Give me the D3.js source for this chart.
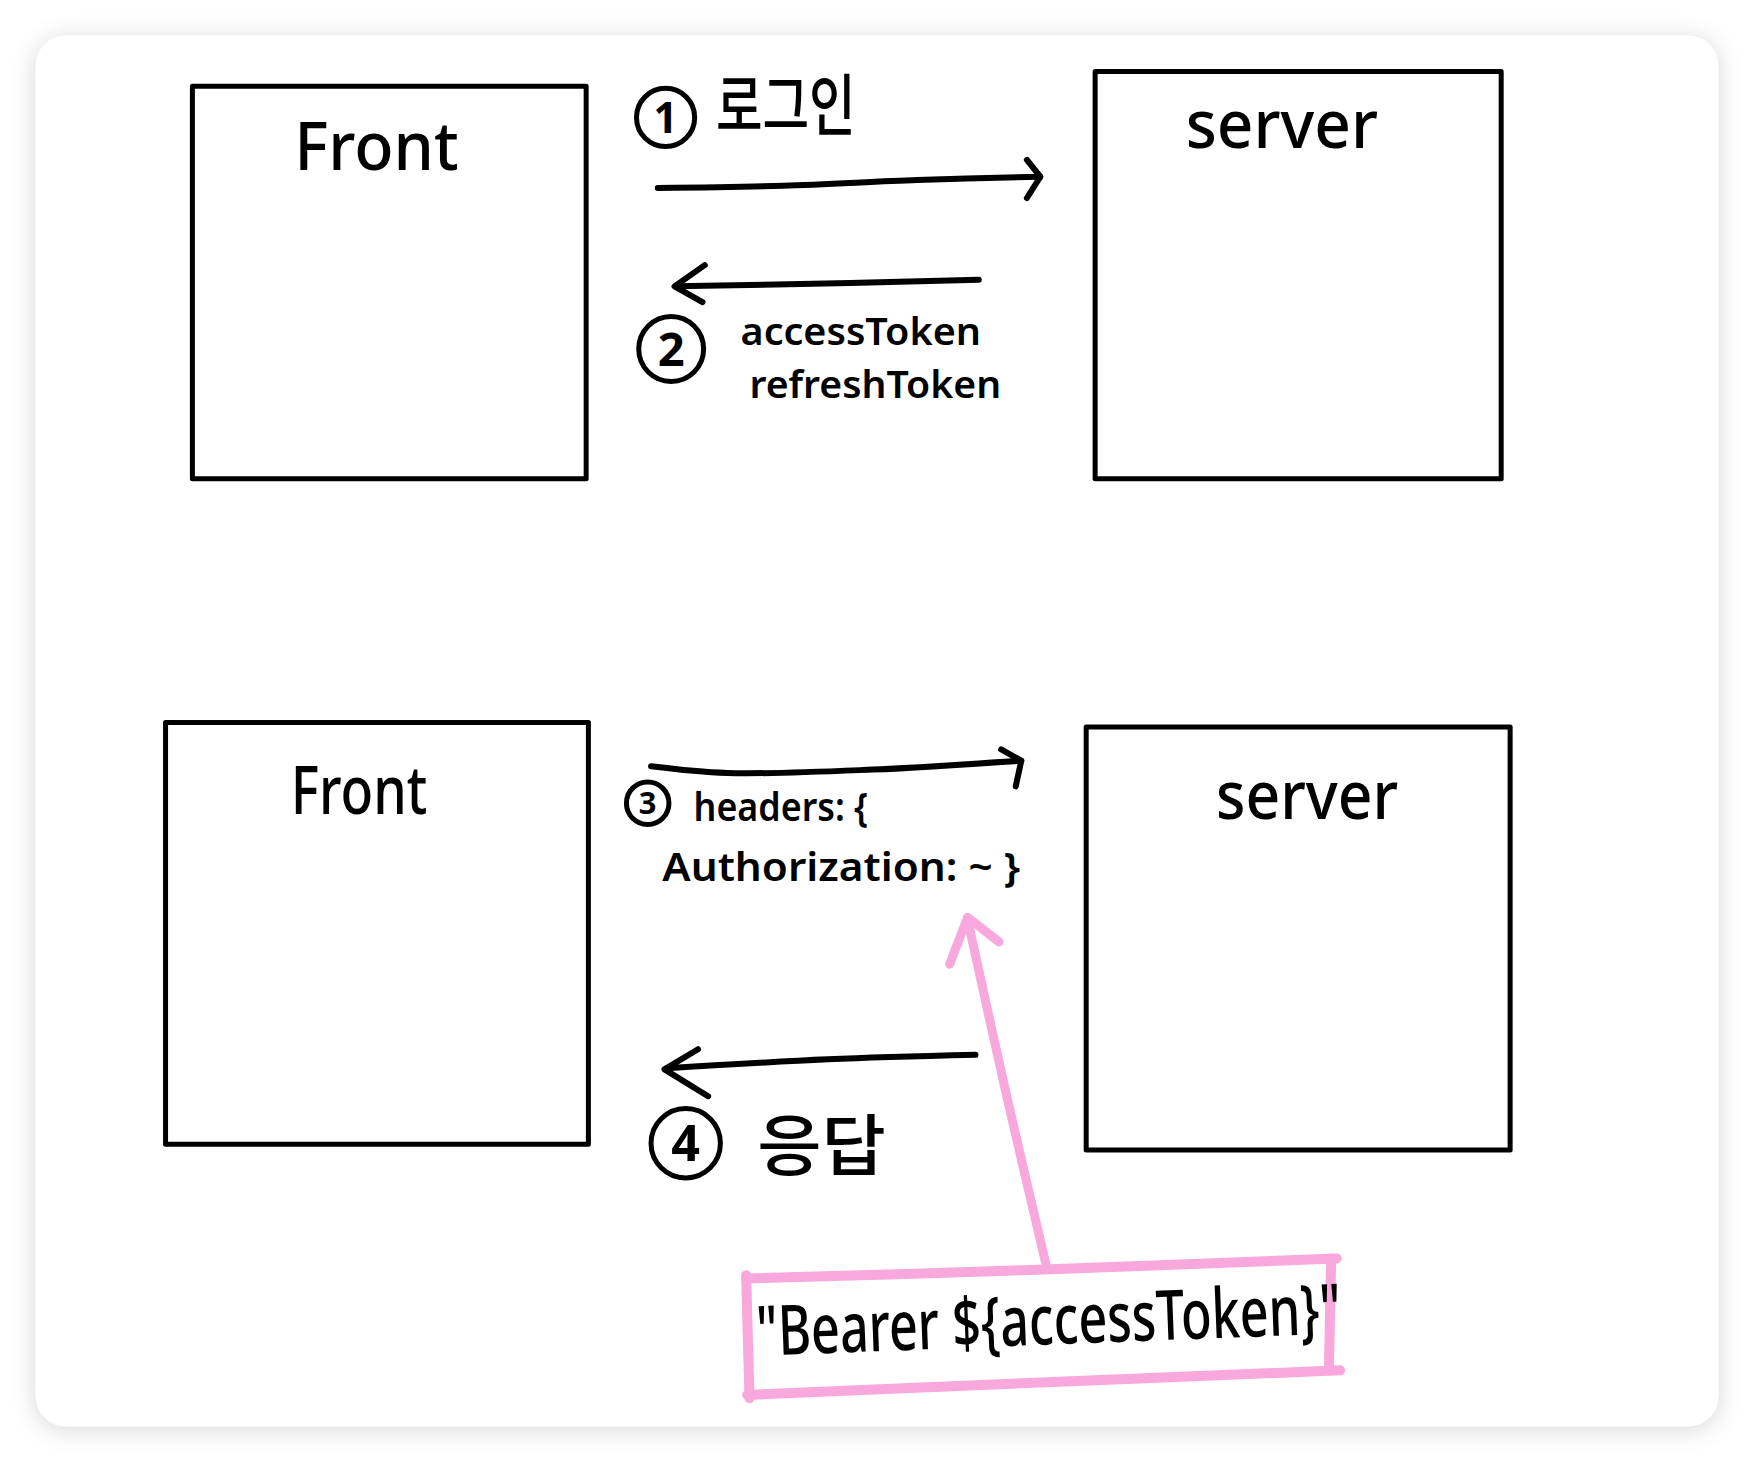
<!DOCTYPE html>
<html>
<head>
<meta charset="utf-8">
<script src="https://cdn.jsdelivr.net/npm/d3@7"></script>
<style>
  html, body { margin: 0; padding: 0; background: #ffffff; }
  svg { display: block; }
</style>
</head>
<body>
<svg id="chart"></svg>
<script>
// sketch units (as drawn), mapped to the page through scales below
const boxes = [
  { name: 'front-top',    x0: 172, y0: 77,  x1: 524,  y1: 428 },
  { name: 'server-top',   x0: 979, y0: 64,  x1: 1342, y1: 428 },
  { name: 'front-bottom', x0: 148, y0: 646, x1: 526,  y1: 1023 },
  { name: 'server-bottom',x0: 971, y0: 650, x1: 1350, y1: 1028 }
];

const boxTitles = [
  { text: 'Front',  x0: 263,  x1: 410,  base: 152 },
  { text: 'server', x0: 1060, x1: 1232, base: 132 },
  { text: 'Front',  x0: 260,  x1: 382,  base: 728 },
  { text: 'server', x0: 1087, x1: 1250, base: 732 }
];

const arrowShafts = [
  [[588, 168], [700, 166], [820, 161], [930, 158]],
  [[875, 250], [760, 253], [604, 256]],
  [[582, 685], [650, 691], [780, 688], [913, 680]],
  [[872, 943], [740, 947], [596, 955]]
];

const arrowHeads = [
  [[918, 143], [930, 158], [918, 177]],
  [[630, 237], [603, 256], [628, 270]],
  [[895, 670], [913, 680], [908, 703]],
  [[624, 938], [594, 956], [633, 980]]
];

const stepMarks = [
  { n: '1', cx: 595, cy: 105, r: 26 },
  { n: '2', cx: 600, cy: 312, r: 29 },
  { n: '3', cx: 579, cy: 718, r: 19 },
  { n: '4', cx: 613, cy: 1022, r: 31 }
];

const notes = [
  { text: '로그인',               x0: 640, x1: 765, base: 116,  size: 60, kr: true },
  { text: 'accessToken',          x0: 662, x1: 877, base: 308,  size: 34 },
  { text: 'refreshToken',         x0: 670, x1: 895, base: 356,  size: 34 },
  { text: 'headers: {',           x0: 620, x1: 776, base: 734,  size: 36 },
  { text: 'Authorization: ~ }',   x0: 592, x1: 912, base: 788,  size: 36 },
  { text: '응답',                 x0: 677, x1: 792, base: 1046, size: 60, kr: true }
];

const pinkArrowShaft = [[935, 1130], [900, 980], [865, 822]];
const pinkArrowHead = [[849, 862], [865, 820], [893, 842]];
const pinkBoxEdges = [
  [[667, 1143], [900, 1136], [1195, 1125]],
  [[1190, 1125], [1188, 1222]],
  [[1198, 1225], [930, 1236], [668, 1247]],
  [[667, 1140], [670, 1250]]
];
const pinkNote = { text: '"Bearer  ${accessToken}"', x0: 677, x1: 1200, base: 1212 };

const W = 1754, H = 1462;
const x = d3.scaleLinear().domain([0, 1568]).range([0, W]);
const y = d3.scaleLinear().domain([0, 1307]).range([0, H]);
const k = W / 1568;

const svg = d3.select('#chart').attr('width', W).attr('height', H);

// card shadow
const defs = svg.append('defs');
const f = defs.append('filter').attr('id', 'shadow')
  .attr('x', '-10%').attr('y', '-10%').attr('width', '120%').attr('height', '120%');
f.append('feDropShadow')
  .attr('dx', 0).attr('dy', 3)
  .attr('stdDeviation', 12)
  .attr('flood-color', '#000')
  .attr('flood-opacity', 0.16);

svg.append('rect')
  .attr('x', x(32)).attr('y', y(32))
  .attr('width', x(1536) - x(32)).attr('height', y(1275) - y(32))
  .attr('rx', 30).attr('fill', '#fff')
  .attr('filter', 'url(#shadow)');

const line = d3.line().x(d => x(d[0])).y(d => y(d[1])).curve(d3.curveCatmullRom);
const straight = d3.line().x(d => x(d[0])).y(d => y(d[1]));

// boxes
svg.append('g').selectAll('rect')
  .data(boxes)
  .join('rect')
  .attr('x', d => x(d.x0)).attr('y', d => y(d.y0))
  .attr('width', d => x(d.x1) - x(d.x0))
  .attr('height', d => y(d.y1) - y(d.y0))
  .attr('fill', 'none')
  .attr('stroke', '#000')
  .attr('stroke-width', 5)
  .attr('stroke-linejoin', 'round');

// text helper: squeeze each label into its drawn width
function addText(g, data, size, family, weight) {
  g.selectAll('text')
    .data(data)
    .join('text')
    .attr('x', d => x(d.x0))
    .attr('y', d => y(d.base))
    .attr('textLength', d => x(d.x1) - x(d.x0))
    .attr('lengthAdjust', 'spacingAndGlyphs')
    .attr('font-size', d => (typeof size === 'function' ? size(d) : size))
    .attr('font-family', d => (d.kr ? "'Noto Sans CJK KR'" : family))
    .attr('font-weight', d => (d.kr ? 500 : weight))
    .attr('fill', '#000')
    .text(d => d.text);
}

addText(svg.append('g'), boxTitles, 60 * k, "'Noto Sans', sans-serif", 500);

// black arrows
const arrows = svg.append('g')
  .attr('fill', 'none').attr('stroke', '#000')
  .attr('stroke-linecap', 'round').attr('stroke-linejoin', 'round');
arrows.selectAll('path.shaft')
  .data(arrowShafts).join('path').attr('class', 'shaft')
  .attr('d', line).attr('stroke-width', 6);
arrows.selectAll('path.head')
  .data(arrowHeads).join('path').attr('class', 'head')
  .attr('d', straight).attr('stroke-width', 6);

// circled step numbers
const marks = svg.append('g');
marks.selectAll('circle')
  .data(stepMarks).join('circle')
  .attr('cx', d => x(d.cx)).attr('cy', d => y(d.cy))
  .attr('r', d => d.r * k)
  .attr('fill', 'none').attr('stroke', '#000').attr('stroke-width', 5);
marks.selectAll('text')
  .data(stepMarks).join('text')
  .attr('x', d => x(d.cx)).attr('y', d => y(d.cy))
  .attr('dy', '0.36em')
  .attr('text-anchor', 'middle')
  .attr('font-family', "'Noto Sans', sans-serif")
  .attr('font-weight', 700)
  .attr('font-size', d => d.r * 1.45 * k)
  .text(d => d.n);

addText(svg.append('g'), notes, d => d.size * k, "'Noto Sans', sans-serif", 600);

// pink callout
const pink = '#f8a8dc';
const pg = svg.append('g')
  .attr('fill', 'none').attr('stroke', pink)
  .attr('stroke-linecap', 'round').attr('stroke-linejoin', 'round');
pg.append('path').attr('d', line(pinkArrowShaft)).attr('stroke-width', 9);
pg.append('path').attr('d', straight(pinkArrowHead)).attr('stroke-width', 9);
pg.selectAll('path.edge')
  .data(pinkBoxEdges).join('path').attr('class', 'edge')
  .attr('d', line).attr('stroke-width', 10);

svg.append('text')
  .attr('x', x(pinkNote.x0)).attr('y', y(pinkNote.base))
  .attr('textLength', x(pinkNote.x1) - x(pinkNote.x0))
  .attr('lengthAdjust', 'spacingAndGlyphs')
  .attr('transform', `rotate(-2.2, ${x(pinkNote.x0)}, ${y(pinkNote.base)})`)
  .attr('font-family', "'Noto Sans', sans-serif")
  .attr('font-weight', 500)
  .attr('font-size', 62 * k)
  .attr('fill', '#000')
  .text(pinkNote.text);
</script>
</body>
</html>
